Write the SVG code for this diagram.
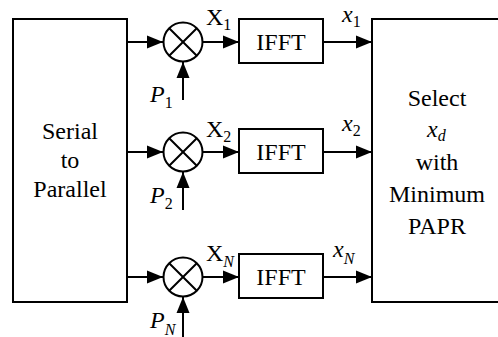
<svg xmlns="http://www.w3.org/2000/svg" width="498" height="337" viewBox="0 0 498 337" font-family="Liberation Serif, DejaVu Serif, serif" font-size="24">
<style>
.b{fill:#fff;stroke:#000;stroke-width:2}
.l{fill:none;stroke:#000;stroke-width:2}
text{font-family:"Liberation Serif",serif;font-size:24px;fill:#000}
.m{text-anchor:middle}
.i{font-style:italic}
.s{font-size:16px}
</style>
<defs>
<marker id="a" markerUnits="userSpaceOnUse" markerWidth="17" markerHeight="14" refX="16" refY="7" orient="auto">
<path d="M0,0.5 L16,7 L0,13.5 Z" fill="#000"/>
</marker>
</defs>
<rect width="498" height="337" fill="#fff"/>
<g id="serial">
<rect class="b" x="13" y="19" width="114" height="283"/>
<text class="m" x="70" y="139" font-family="Liberation Serif">Serial</text>
<text class="m" x="70" y="168">to</text>
<text class="m" x="70" y="197">Parallel</text>
</g>
<g id="select">
<rect class="b" x="372" y="19" width="140" height="283"/>
<text class="m" x="437" y="106">Select</text>
<text x="427" y="137"><tspan class="i">x</tspan><tspan class="i s" dy="4">d</tspan></text>
<text class="m" x="437" y="170">with</text>
<text class="m" x="437" y="202">Minimum</text>
<text class="m" x="437" y="234">PAPR</text>
</g>
<g id="mult1">
<circle class="l" cx="183" cy="42" r="19.5"/>
<path class="l" d="M169.2,28.2 L196.8,55.8 M196.8,28.2 L169.2,55.8"/>
</g>
<g id="mult2">
<circle class="l" cx="183" cy="152" r="19.5"/>
<path class="l" d="M169.2,138.2 L196.8,165.8 M196.8,138.2 L169.2,165.8"/>
</g>
<g id="multN">
<circle class="l" cx="183" cy="277" r="19.5"/>
<path class="l" d="M169.2,263.2 L196.8,290.8 M196.8,263.2 L169.2,290.8"/>
</g>
<g id="ifft1">
<rect class="b" x="239" y="19" width="84" height="44"/>
<text class="m" x="281" y="50">IFFT</text>
</g>
<g id="ifft2">
<rect class="b" x="239" y="129" width="84" height="44"/>
<text class="m" x="281" y="160">IFFT</text>
</g>
<g id="ifftN">
<rect class="b" x="239" y="254" width="84" height="44"/>
<text class="m" x="281" y="285">IFFT</text>
</g>
<g id="connectors">
<line class="l" x1="127" y1="42" x2="163" y2="42" marker-end="url(#a)"/>
<line class="l" x1="203" y1="42" x2="239" y2="42" marker-end="url(#a)"/>
<line class="l" x1="323" y1="42" x2="372" y2="42" marker-end="url(#a)"/>
<line class="l" x1="183" y1="100" x2="183" y2="62" marker-end="url(#a)"/>
<line class="l" x1="127" y1="152" x2="163" y2="152" marker-end="url(#a)"/>
<line class="l" x1="203" y1="152" x2="239" y2="152" marker-end="url(#a)"/>
<line class="l" x1="323" y1="152" x2="372" y2="152" marker-end="url(#a)"/>
<line class="l" x1="183" y1="210" x2="183" y2="172" marker-end="url(#a)"/>
<line class="l" x1="127" y1="277" x2="163" y2="277" marker-end="url(#a)"/>
<line class="l" x1="203" y1="277" x2="239" y2="277" marker-end="url(#a)"/>
<line class="l" x1="323" y1="277" x2="372" y2="277" marker-end="url(#a)"/>
<line class="l" x1="183" y1="337" x2="183" y2="297" marker-end="url(#a)"/>
</g>
<g id="labels">
<text x="206" y="25">X<tspan class="s" dy="5">1</tspan></text>
<text x="206" y="137">X<tspan class="s" dy="5">2</tspan></text>
<text x="206" y="261">X<tspan class="s i" dy="6">N</tspan></text>
<text x="342" y="22"><tspan class="i">x</tspan><tspan class="s" dy="5">1</tspan></text>
<text x="342" y="131"><tspan class="i">x</tspan><tspan class="s" dy="5">2</tspan></text>
<text x="333" y="257"><tspan class="i">x</tspan><tspan class="s i" dy="7">N</tspan></text>
<text x="150" y="102"><tspan class="i">P</tspan><tspan class="s" dy="6">1</tspan></text>
<text x="150" y="203"><tspan class="i">P</tspan><tspan class="s" dy="6">2</tspan></text>
<text x="150" y="328"><tspan class="i">P</tspan><tspan class="s i" dy="7">N</tspan></text>
</g>
</svg>
